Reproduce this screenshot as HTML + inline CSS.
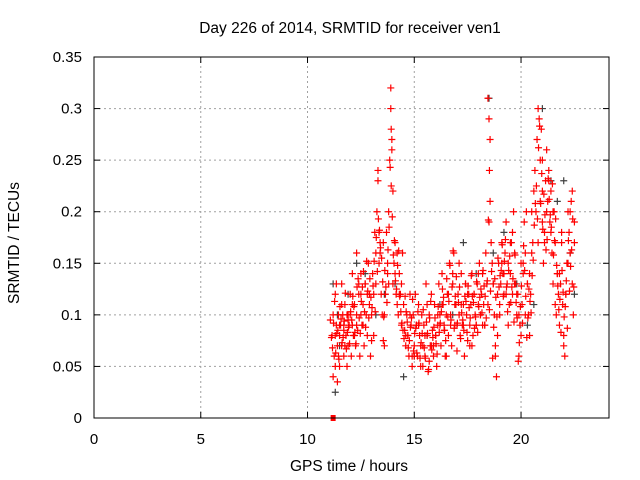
<!DOCTYPE html>
<html><head><meta charset="utf-8"><style>
body{margin:0;background:#fff}
svg{display:block;font-family:"Liberation Sans",sans-serif}
</style></head><body>
<svg id="chart" width="640" height="480">
<rect x="0" y="0" width="640" height="480" fill="#fff"/>
<text x="350" y="33" font-size="15.5" text-anchor="middle">Day 226 of 2014, SRMTID for receiver ven1</text>
<text x="349" y="471" font-size="15.5" text-anchor="middle">GPS time / hours</text>
<text transform="translate(19,243) rotate(-90)" font-size="15.5" text-anchor="middle">SRMTID / TECUs</text>
<g id="grid"></g><g id="ticks"></g><g id="marks"></g>
<rect x="94" y="57" width="515" height="361" fill="none" stroke="#000" stroke-width="1"/>
</svg>
<script>
const xTicks=[0,5,10,15,20];
const yTicks=[0,0.05,0.1,0.15,0.2,0.25,0.3,0.35];
const yTickLabels=["0","0.05","0.1","0.15","0.2","0.25","0.3","0.35"];
const redTimes=[11.15,11.2,11.25,11.3,11.3,11.35,11.4,11.4,11.45,11.5,11.5,11.55,11.6,11.6,11.65,11.7,11.7,11.75,11.8,11.85,11.9,11.9,11.95,12.0,12.05,12.1,12.1,12.15,12.2,12.25,12.3,12.3,12.35,12.4,12.45,12.5,12.5,12.55,12.6,12.65,12.7,12.75,12.8,12.85,12.9,12.95,13.0,13.05,13.1,13.15,13.2,13.25,13.3,13.3,13.35,13.4,13.45,13.5,13.55,13.6,13.65,13.7,13.75,13.8,13.85,13.9,13.9,13.92,13.95,13.95,14.0,14.0,14.05,14.1,14.15,14.2,14.25,14.3,14.35,14.4,14.45,14.5,14.55,14.6,14.65,14.7,14.75,14.8,14.85,14.9,14.95,15.0,15.05,15.1,15.15,15.2,15.25,15.3,15.35,15.4,15.45,15.5,15.55,15.6,15.65,15.7,15.75,15.8,15.85,15.9,15.95,16.0,16.05,16.1,16.15,16.2,16.25,16.3,16.35,16.4,16.45,16.5,16.55,16.6,16.65,16.7,16.75,16.8,16.85,16.9,16.95,17.0,17.05,17.1,17.15,17.2,17.25,17.3,17.35,17.4,17.45,17.5,17.55,17.6,17.65,17.7,17.75,17.8,17.85,17.9,17.95,18.0,18.05,18.1,18.15,18.2,18.25,18.3,18.35,18.4,18.45,18.45,18.5,18.5,18.52,18.55,18.55,18.6,18.65,18.7,18.75,18.8,18.85,18.9,18.95,19.0,19.05,19.1,19.15,19.2,19.25,19.3,19.35,19.4,19.45,19.5,19.55,19.6,19.65,19.7,19.75,19.8,19.85,19.9,19.95,20.0,20.05,20.1,20.15,20.2,20.25,20.3,20.35,20.4,20.45,20.5,20.55,20.6,20.65,20.7,20.75,20.8,20.85,20.9,20.95,21.0,21.0,21.05,21.1,21.15,21.2,21.25,21.3,21.35,21.4,21.45,21.5,21.55,21.6,21.65,21.7,21.75,21.8,21.85,21.9,21.95,22.0,22.05,22.1,22.15,22.2,22.25,22.3,22.35,22.4,22.45,22.5,
11.2,11.35,11.5,11.6,11.75,11.9,12.0,12.2,12.4,12.6,12.8,13.0,13.2,13.4,13.6,13.8,14.1,14.3,14.6,14.8,15.0,15.2,15.4,15.6,15.8,16.0,16.2,16.4,16.6,16.8,17.0,17.2,17.4,17.6,17.8,18.0,18.2,18.7,18.9,19.1,19.3,19.5,19.7,19.9,20.1,20.3,20.5,20.9,21.1,21.3,21.5,21.7,21.9,22.1,22.3,22.5,
11.3,11.45,11.7,11.85,12.1,12.3,12.5,12.7,12.9,13.1,13.35,13.55,13.75,14.2,14.4,14.7,14.9,15.1,15.3,15.5,15.7,15.9,16.1,16.3,16.5,16.7,16.9,17.1,17.3,17.5,17.7,17.9,18.1,18.3,18.8,19.0,19.2,19.4,19.6,19.8,20.0,20.2,20.4,20.8,21.0,21.2,21.4,21.6,21.8,22.0,22.2,22.4];
const redValues=[0.08,0.1,0.06,0.12,0.05,0.09,0.035,0.07,0.1,0.08,0.05,0.09,0.13,0.07,0.1,0.06,0.085,0.11,0.08,0.05,0.1,0.07,0.09,0.12,0.06,0.09,0.14,0.08,0.11,0.07,0.1,0.16,0.085,0.12,0.06,0.1,0.14,0.09,0.11,0.07,0.13,0.1,0.08,0.15,0.12,0.06,0.1,0.14,0.12,0.18,0.16,0.2,0.23,0.24,0.15,0.17,0.12,0.1,0.075,0.07,0.12,0.18,0.15,0.2,0.25,0.32,0.3,0.28,0.26,0.27,0.22,0.13,0.15,0.14,0.12,0.11,0.1,0.14,0.12,0.09,0.16,0.11,0.085,0.07,0.1,0.08,0.06,0.12,0.09,0.05,0.1,0.07,0.12,0.09,0.06,0.11,0.08,0.05,0.1,0.07,0.09,0.06,0.13,0.08,0.045,0.1,0.07,0.12,0.085,0.06,0.11,0.08,0.05,0.1,0.13,0.09,0.07,0.14,0.11,0.085,0.06,0.1,0.12,0.08,0.15,0.1,0.07,0.13,0.16,0.09,0.11,0.065,0.12,0.1,0.08,0.14,0.09,0.11,0.06,0.13,0.1,0.075,0.12,0.09,0.11,0.14,0.08,0.12,0.1,0.09,0.13,0.11,0.15,0.1,0.12,0.14,0.11,0.09,0.16,0.13,0.11,0.31,0.19,0.29,0.24,0.27,0.21,0.17,0.15,0.13,0.1,0.07,0.04,0.12,0.15,0.11,0.13,0.17,0.14,0.12,0.16,0.19,0.13,0.15,0.11,0.14,0.17,0.12,0.2,0.16,0.13,0.1,0.12,0.06,0.09,0.08,0.11,0.14,0.19,0.16,0.2,0.13,0.1,0.08,0.12,0.2,0.17,0.22,0.24,0.2,0.27,0.3,0.29,0.25,0.28,0.22,0.19,0.15,0.17,0.23,0.26,0.21,0.24,0.19,0.22,0.16,0.13,0.2,0.17,0.1,0.14,0.12,0.09,0.13,0.17,0.11,0.08,0.06,0.12,0.15,0.2,0.18,0.16,0.21,0.13,0.1,0.17,
0.04,0.13,0.09,0.11,0.07,0.095,0.1,0.08,0.13,0.09,0.12,0.075,0.13,0.16,0.1,0.13,0.17,0.12,0.08,0.1,0.06,0.09,0.05,0.11,0.07,0.08,0.1,0.09,0.12,0.14,0.09,0.11,0.13,0.07,0.12,0.14,0.09,0.13,0.08,0.15,0.12,0.17,0.13,0.1,0.15,0.13,0.16,0.21,0.18,0.23,0.2,0.14,0.18,0.12,0.2,0.19,
0.08,0.06,0.09,0.1,0.11,0.09,0.12,0.13,0.11,0.08,0.18,0.17,0.14,0.16,0.13,0.08,0.06,0.09,0.07,0.08,0.055,0.07,0.09,0.11,0.06,0.09,0.11,0.15,0.09,0.12,0.07,0.09,0.1,0.09,0.06,0.1,0.14,0.09,0.18,0.12,0.15,0.1,0.14,0.17,0.25,0.2,0.18,0.11,0.14,0.07,0.15,0.22];
const extraTimes=[11.12,11.22,11.32,11.42,11.52,11.62,11.72,11.82,11.92,12.02,12.12,12.22,12.32,12.42,12.52,12.62,12.72,12.82,12.92,13.02,13.12,13.22,13.32,13.42,13.52,13.62,13.72,13.82,13.92,14.02,14.12,14.22,14.32,14.42,14.52,14.62,14.72,14.82,14.92,15.02,15.12,15.22,15.32,15.42,15.52,15.62,15.72,15.82,15.92,16.02,16.12,16.22,16.32,16.42,16.52,16.62,16.72,16.82,16.92,17.02,17.12,17.22,17.32,17.42,17.52,17.62,17.72,17.82,17.92,18.02,18.12,18.22,18.32,18.42,18.52,18.62,18.72,18.82,18.92,19.02,19.12,19.22,19.32,19.42,19.52,19.62,19.72,19.82,19.92,20.02,20.12,20.22,20.32,20.42,20.52,20.62,20.72,20.82,20.92,21.02,21.12,21.22,21.32,21.42,21.52,21.62,21.72,21.82,21.92,22.02,22.12,22.22,22.32,22.42,
11.07,11.17,11.27,11.37,11.47,11.57,11.67,11.77,11.87,11.97,12.07,12.17,12.27,12.37,12.47,12.57,12.67,12.77,12.87,12.97,13.07,13.17,13.27,13.37,13.47,13.57,13.67,13.77,13.87,13.97,14.07,14.17,14.27,14.37,14.47,14.57,14.67,14.77,14.87,14.97,15.07,15.17,15.27,15.37,15.47,15.57,15.67,15.77,15.87,15.97,16.07,16.17,16.27,16.37,16.47,16.57,16.67,16.77,16.87,16.97,17.07,17.17,17.27,17.37,17.47,17.57,17.67,17.77,17.87,17.97,18.07,18.17,18.27,18.37,18.47,18.57,18.67,18.77,18.87,18.97,19.07,19.17,19.27,19.37,19.47,19.57,19.67,19.77,19.87,19.97,20.07,20.17,20.27,20.37,20.47,20.57,20.67,20.77,20.87,20.97,21.07,21.17,21.27,21.37,21.47,21.57,21.67,21.77,21.87,21.97,22.07,22.17,22.27,22.37,22.47];
const extraValues=[0.078,0.092,0.063,0.085,0.108,0.073,0.094,0.067,0.088,0.103,0.118,0.083,0.127,0.097,0.113,0.142,0.088,0.123,0.135,0.107,0.152,0.175,0.193,0.165,0.132,0.143,0.112,0.185,0.225,0.158,0.133,0.148,0.118,0.092,0.077,0.103,0.068,0.088,0.115,0.082,0.063,0.092,0.073,0.105,0.058,0.082,0.097,0.066,0.088,0.072,0.108,0.092,0.125,0.085,0.135,0.113,0.095,0.162,0.118,0.092,0.127,0.102,0.085,0.113,0.128,0.097,0.118,0.087,0.132,0.108,0.125,0.143,0.118,0.133,0.105,0.142,0.088,0.117,0.155,0.138,0.168,0.152,0.127,0.143,0.112,0.135,0.158,0.097,0.073,0.128,0.167,0.118,0.097,0.113,0.138,0.187,0.225,0.262,0.208,0.183,0.197,0.173,0.212,0.185,0.158,0.193,0.128,0.115,0.143,0.098,0.133,0.172,0.147,0.193,
0.095,0.068,0.113,0.082,0.057,0.096,0.078,0.121,0.083,0.072,0.095,0.108,0.072,0.135,0.082,0.127,0.103,0.152,0.097,0.117,0.128,0.103,0.142,0.182,0.155,0.098,0.127,0.163,0.243,0.195,0.172,0.125,0.162,0.103,0.085,0.118,0.093,0.075,0.097,0.065,0.087,0.103,0.058,0.082,0.068,0.093,0.047,0.113,0.078,0.097,0.062,0.083,0.103,0.117,0.075,0.098,0.148,0.127,0.087,0.137,0.112,0.077,0.095,0.118,0.083,0.107,0.138,0.112,0.098,0.083,0.117,0.102,0.128,0.097,0.192,0.123,0.058,0.135,0.098,0.127,0.143,0.118,0.173,0.103,0.157,0.127,0.093,0.112,0.055,0.108,0.092,0.143,0.078,0.125,0.102,0.153,0.208,0.193,0.283,0.237,0.217,0.163,0.232,0.197,0.227,0.172,0.148,0.105,0.083,0.122,0.108,0.087,0.123,0.163,0.127];
const greyTimes=[11.2,11.3,11.4,11.5,11.9,12.3,12.7,13.2,13.6,14.1,14.5,15.0,15.6,16.2,16.8,17.3,17.9,18.5,18.7,19.2,19.8,20.3,20.6,21.0,21.4,21.7,22.0,22.3,22.5];
const greyValues=[0.13,0.025,0.1,0.07,0.12,0.15,0.14,0.1,0.12,0.13,0.04,0.06,0.08,0.11,0.1,0.17,0.14,0.31,0.16,0.18,0.13,0.09,0.11,0.3,0.23,0.21,0.23,0.16,0.12];
const X0=94,X1=609,XMAX=24.12,Y0=418,Y1=57,YMAX=0.35;
function xs(t){return X0+(X1-X0)*t/XMAX;}
function ys(v){return Y0-(Y0-Y1)*v/YMAX;}
const NS="http://www.w3.org/2000/svg";
const grid=document.getElementById('grid'),ticks=document.getElementById('ticks'),marks=document.getElementById('marks');
function mk(tag,a,p){const e=document.createElementNS(NS,tag);for(const k in a)e.setAttribute(k,a[k]);p.appendChild(e);return e;}
xTicks.forEach(t=>{const x=xs(t);
 if(t>0){const g=mk('line',{x1:x,y1:Y0,x2:x,y2:Y1,stroke:'#a0a0a0','stroke-dasharray':'2,3'},grid);
 
 }
 mk('line',{x1:x,y1:Y0,x2:x,y2:Y0-6,stroke:'#000'},ticks);mk('line',{x1:x,y1:Y1,x2:x,y2:Y1+6,stroke:'#000'},ticks);
 const l=mk('text',{x:x,y:444,'font-size':15,'text-anchor':'middle'},ticks);l.textContent=t;
 
 });
yTicks.forEach((v,i)=>{const y=ys(v);
 if(v>0&&v<YMAX){const g=mk('line',{x1:X0,y1:y,x2:X1,y2:y,stroke:'#a0a0a0','stroke-dasharray':'2,3'},grid);
 
 }
 mk('line',{x1:X0,y1:y,x2:X0+6,y2:y,stroke:'#000'},ticks);mk('line',{x1:X1,y1:y,x2:X1-6,y2:y,stroke:'#000'},ticks);
 const l=mk('text',{x:82,y:y+5,'font-size':15,'text-anchor':'end'},ticks);l.textContent=yTickLabels[i];
 
 });
function plus(t,v,c){const x=xs(t),y=ys(v);
 const p=mk('path',{d:`M${x-3.5},${y}h7M${x},${y-3.5}v7`,stroke:c,'stroke-width':1.2,fill:'none'},marks);
 
 }
greyTimes.forEach((t,i)=>plus(t,greyValues[i],'#404040'));
redTimes.forEach((t,i)=>plus(t,redValues[i],'#ff0000'));
extraTimes.forEach((t,i)=>plus(t,extraValues[i],'#ff0000'));
const sq=mk('rect',{x:xs(11.2)-2.5,y:Y0-3,width:5,height:6,fill:'#ff0000'},marks);


</script>
</body></html>
